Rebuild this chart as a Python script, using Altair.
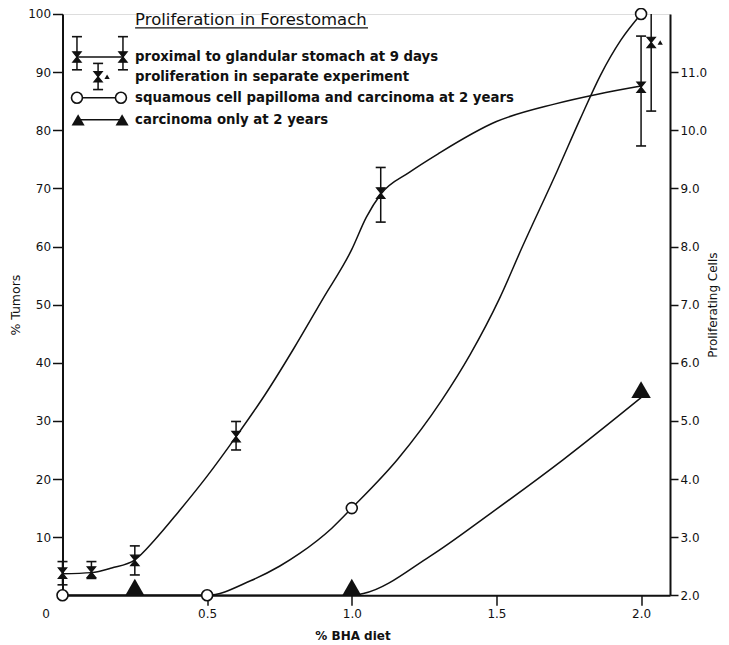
import altair as alt
import pandas as pd

# ---------------- data ----------------
# Proliferating cells (right axis) vs % BHA diet
prolif_x = [0.0, 0.1, 0.25, 0.6, 1.1, 2.0]
prolif_y = [2.38, 2.40, 2.60, 4.73, 8.92, 10.74]
prolif_lo = [2.18, 2.29, 2.35, 4.50, 8.42, 9.73]
prolif_hi = [2.58, 2.58, 2.85, 4.99, 9.36, 11.62]

# proliferation in separate experiment (upper bar runs off the top)
sep_x = [2.035]
sep_y = [11.51]
sep_lo = [10.33]
sep_hi = [12.10]

# hand-drawn fitted curve through the proliferation points
prolif_curve_x = [0.0, 0.1, 0.17, 0.25, 0.32, 0.4, 0.5, 0.6, 0.7, 0.8, 0.9, 1.0, 1.05, 1.1,
                  1.2, 1.3, 1.5, 1.7, 1.85, 2.0]
prolif_curve_y = [2.37, 2.39, 2.47, 2.61, 2.96, 3.43, 4.05, 4.73, 5.45, 6.25, 7.10, 7.95, 8.50,
                  8.90, 9.28, 9.60, 10.15, 10.45, 10.62, 10.76]

# % tumors (left axis)
papilloma_x = [0.0, 0.5, 1.0, 2.0]
papilloma_y = [0, 0, 15, 100]
papilloma_curve_x = [0.0, 0.5, 0.65, 0.75, 0.82, 0.93, 1.0, 1.16, 1.31, 1.41, 1.51, 1.59, 1.71,
                     1.79, 1.86, 1.93, 2.0]
papilloma_curve_y = [0, 0, 2.5, 5.0, 7.2, 11.5, 15.0, 23.5, 33.5, 41.5, 51.0, 60.0, 73.0,
                     82.0, 89.5, 95.5, 100]

carcinoma_x = [0.25, 1.0, 2.0]
carcinoma_y = [0, 0, 34]
carcinoma_curve_x = [0.0, 0.25, 1.0, 1.04, 1.27, 1.48, 1.73, 2.0]
carcinoma_curve_y = [0, 0, 0, 0.3, 6.7, 14.1, 23.3, 34]

x_ticks = [0, 0.5, 1.0, 1.5, 2.0]
left_ticks = [10, 20, 30, 40, 50, 60, 70, 80, 90, 100]
right_ticks = [2, 3, 4, 5, 6, 7, 8, 9, 10, 11]

legend_title = "Proliferation in Forestomach"
legend_labels = [
    "proximal to glandular stomach at 9 days",
    "proliferation in separate experiment",
    "squamous cell papilloma and carcinoma at 2 years",
    "carcinoma only at 2 years",
]

# ---------------- styling ----------------
FONT = "DejaVu Sans"
INK = "#111111"
HOURGLASS = "M-0.8,-1L0.8,-1L-0.8,1L0.8,1Z"

xscale = alt.Scale(domain=[0, 2.1], nice=False, zero=False)
lscale = alt.Scale(domain=[0, 100], nice=False, zero=False)
rscale = alt.Scale(domain=[2, 12], nice=False, zero=False)

common = dict(domainColor=INK, domainWidth=2, tickColor=INK, tickWidth=1.5,
              labelColor=INK, labelFont=FONT, labelFontSize=12,
              titleColor=INK, titleFont=FONT, grid=False)

x_axis = alt.Axis(
    values=x_ticks,
    labelExpr="datum.value == 0 ? '0' : format(datum.value, '.1f')",
    labelOffset={"condition": {"test": "datum.value == 0", "value": -17}, "value": 0},
    tickOpacity={"condition": {"test": "datum.value == 0", "value": 0}, "value": 1},
    labelFlush=False,
    tickSize=10, labelPadding=3,
    title="% BHA diet", titleFontSize=12, titleFontWeight="bold",
    titleX=290, titlePadding=11, **common)

left_axis = alt.Axis(values=left_ticks, tickSize=10, labelPadding=2,
                     title="% Tumors", titleFontSize=12.5, titleFontWeight="normal",
                     titlePadding=5, **common)

right_axis = alt.Axis(orient="right", values=right_ticks, format=".1f",
                      tickSize=8, labelPadding=2,
                      title="Proliferating Cells", titleAngle=270, titleBaseline="top",
                      titleFontSize=12, titleFontWeight="normal", titlePadding=1,
                      **common)

X = alt.X("x:Q", scale=xscale, axis=x_axis)
YL = alt.Y("y:Q", scale=lscale, axis=left_axis)
YLlo = alt.Y("lo:Q", scale=lscale, axis=left_axis)
YLhi = alt.Y("hi:Q", scale=lscale, axis=left_axis)
YR = alt.Y("y:Q", scale=rscale, axis=right_axis)
YRlo = alt.Y("lo:Q", scale=rscale, axis=right_axis)
YRhi = alt.Y("hi:Q", scale=rscale, axis=right_axis)

# ---------------- frames ----------------
df_prolif = pd.DataFrame({"x": prolif_x, "y": prolif_y, "lo": prolif_lo, "hi": prolif_hi})
df_sep = pd.DataFrame({"x": sep_x, "y": sep_y, "lo": sep_lo, "hi": sep_hi})
df_pc = pd.DataFrame({"x": prolif_curve_x, "y": prolif_curve_y})
df_pap = pd.DataFrame({"x": papilloma_x, "y": papilloma_y})
df_papc = pd.DataFrame({"x": papilloma_curve_x, "y": papilloma_curve_y})
df_car = pd.DataFrame({"x": carcinoma_x, "y": carcinoma_y})
df_carc = pd.DataFrame({"x": carcinoma_curve_x, "y": carcinoma_curve_y})

# legend (placed in the upper-left of the plot, in data units of the left axis)
df_ltitle = pd.DataFrame({"x": [0.251], "y": [99.0], "t": [legend_title]})
df_lunder = pd.DataFrame({"x": [0.251], "x2": [1.056], "y": [97.6]})
df_ltext = pd.DataFrame({"x": [0.251] * 4, "y": [92.6, 89.2, 85.6, 81.8], "t": legend_labels})
df_lmark = pd.DataFrame({"x": [0.050, 0.209, 0.123], "y": [92.6, 92.6, 89.2],
                         "lo": [90.4, 90.4, 87.0], "hi": [96.1, 96.1, 91.5]})
df_lsep = pd.DataFrame({"x": [0.123], "y": [89.2]})
df_llines = pd.DataFrame({"x": [0.050, 0.050, 0.054], "x2": [0.209, 0.202, 0.206],
                          "y": [92.6, 85.6, 81.8]})
df_lcirc = pd.DataFrame({"x": [0.050, 0.202], "y": [85.6, 85.6]})
df_ltri = pd.DataFrame({"x": [0.054, 0.206], "y": [81.8, 81.8]})

# ---------------- left (tumor) layers ----------------
line_kw = dict(color=INK, strokeWidth=1.5, interpolate="monotone")
hour_kw = dict(shape=HOURGLASS, size=110, filled=True, color=INK, stroke=INK,
               strokeWidth=1.2, opacity=1)
cap_kw = dict(shape="stroke", size=100, color=INK, strokeWidth=1.6, opacity=1)

pap_line = alt.Chart(df_papc).mark_line(**line_kw).encode(x=X, y=YL)
car_line = alt.Chart(df_carc).mark_line(**line_kw).encode(x=X, y=YL)
pap_pts = alt.Chart(df_pap).mark_point(shape="circle", size=120, fill="white", fillOpacity=1,
                                      stroke=INK, strokeWidth=1.6, opacity=1).encode(x=X, y=YL)
car_pts = alt.Chart(df_car).mark_point(shape="triangle-up", size=380, filled=True, color=INK,
                                      opacity=1, yOffset=-8).encode(x=X, y=YL)

leg_title = alt.Chart(df_ltitle).mark_text(align="left", baseline="middle", font=FONT,
                                           fontSize=16.5, color=INK).encode(x=X, y=YL, text="t:N")
leg_under = alt.Chart(df_lunder).mark_rule(color=INK, strokeWidth=1.3).encode(x=X, x2="x2:Q", y=YL)
leg_text = alt.Chart(df_ltext).mark_text(align="left", baseline="middle", font=FONT, fontSize=13.3,
                                         fontWeight="bold", color=INK).encode(x=X, y=YL, text="t:N")
leg_lines = alt.Chart(df_llines).mark_rule(color=INK, strokeWidth=1.5).encode(x=X, x2="x2:Q", y=YL)
leg_err = alt.Chart(df_lmark).mark_rule(color=INK, strokeWidth=1.5).encode(x=X, y=YLlo, y2="hi:Q")
leg_cap_lo = alt.Chart(df_lmark).mark_point(**cap_kw).encode(x=X, y=YLlo)
leg_cap_hi = alt.Chart(df_lmark).mark_point(**cap_kw).encode(x=X, y=YLhi)
leg_hour = alt.Chart(df_lmark).mark_point(**hour_kw).encode(x=X, y=YL)
leg_small = alt.Chart(df_lsep).mark_point(shape="triangle-up", size=28, filled=True, color=INK,
                                         opacity=1, xOffset=9).encode(x=X, y=YL)
leg_circ = alt.Chart(df_lcirc).mark_point(shape="circle", size=120, fill="white", fillOpacity=1,
                                         stroke=INK, strokeWidth=1.6, opacity=1).encode(x=X, y=YL)
leg_tri = alt.Chart(df_ltri).mark_point(shape="triangle-up", size=170, filled=True, color=INK,
                                       opacity=1).encode(x=X, y=YL)

left = alt.layer(pap_line, car_line, pap_pts, car_pts,
                 leg_title, leg_under, leg_text, leg_lines, leg_err, leg_cap_lo, leg_cap_hi,
                 leg_hour, leg_small, leg_circ, leg_tri)

# ---------------- right (proliferation) layers ----------------
pro_line = alt.Chart(df_pc).mark_line(**line_kw).encode(x=X, y=YR)
pro_err = alt.Chart(df_prolif).mark_rule(color=INK, strokeWidth=1.5).encode(x=X, y=YRlo, y2="hi:Q")
pro_cap_lo = alt.Chart(df_prolif).mark_point(**cap_kw).encode(x=X, y=YRlo)
pro_cap_hi = alt.Chart(df_prolif).mark_point(**cap_kw).encode(x=X, y=YRhi)
pro_pts = alt.Chart(df_prolif).mark_point(**hour_kw).encode(x=X, y=YR)

sep_err = alt.Chart(df_sep).mark_rule(color=INK, strokeWidth=1.5, clip=True).encode(x=X, y=YRlo, y2="hi:Q")
sep_cap = alt.Chart(df_sep).mark_point(**cap_kw).encode(x=X, y=YRlo)
sep_pts = alt.Chart(df_sep).mark_point(**hour_kw).encode(x=X, y=YR)
sep_small = alt.Chart(df_sep).mark_point(shape="triangle-up", size=28, filled=True, color=INK,
                                        opacity=1, xOffset=9).encode(x=X, y=YR)

right = alt.layer(pro_line, pro_err, pro_cap_lo, pro_cap_hi, pro_pts,
                  sep_err, sep_cap, sep_pts, sep_small)

chart = (
    alt.layer(left, right)
    .resolve_scale(y="independent")
    .properties(width=607.5, height=581.3,
                autosize=alt.AutoSizeParams(type="none"),
                padding={"left": 54.5, "top": 6, "right": 51, "bottom": 47})
    .configure_view(stroke=None)
    .configure(background="white")
)

chart.save("out.html", embed_options={"renderer": "svg", "actions": False})
